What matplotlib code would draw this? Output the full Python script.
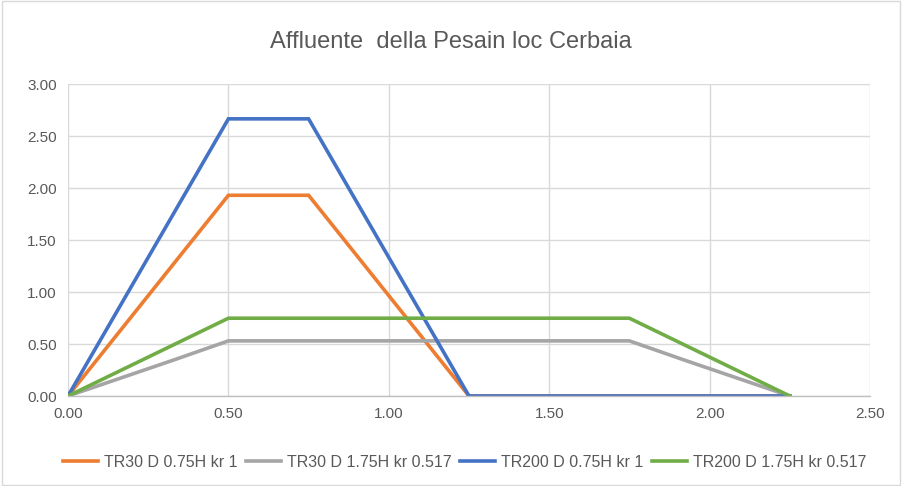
import matplotlib.pyplot as plt
from matplotlib import font_manager

names = {f.name for f in font_manager.fontManager.ttflist}
font = 'Liberation Sans Narrow' if 'Liberation Sans Narrow' in names else 'Liberation Sans'
plt.rcParams['font.family'] = [font, 'DejaVu Sans']

# dati
x_tr30_075 = [0, 0.5, 0.75, 1.25, 2.25]
y_tr30_075 = [0, 1.93, 1.93, 0, 0]
x_tr30_175 = [0, 0.333, 0.5, 1.75, 1.917, 2.25]
y_tr30_175 = [0, 0.35, 0.53, 0.53, 0.35, 0]
x_tr200_075 = [0, 0.5, 0.75, 1.25, 2.25]
y_tr200_075 = [0, 2.665, 2.665, 0, 0]
x_tr200_175 = [0, 0.5, 1.75, 2.25]
y_tr200_175 = [0, 0.748, 0.748, 0]

labels = ['TR30 D 0.75H kr 1', 'TR30 D 1.75H kr 0.517',
          'TR200 D 0.75H kr 1', 'TR200 D 1.75H kr 0.517']
colors = ['#ED7D31', '#A5A5A5', '#4472C4', '#70AD47']
xticks = [0, 0.5, 1.0, 1.5, 2.0, 2.5]
yticks = [0, 0.5, 1.0, 1.5, 2.0, 2.5, 3.0]

fig = plt.figure(figsize=(9.02, 4.86), dpi=100)
ax = fig.add_axes([68 / 902, 1 - 396 / 486, (870 - 68) / 902, (396 - 84) / 486])

series = [(x_tr30_075, y_tr30_075), (x_tr30_175, y_tr30_175),
          (x_tr200_075, y_tr200_075), (x_tr200_175, y_tr200_175)]
for (xs, ys), lab, c in zip(series, labels, colors):
    ax.plot(xs, ys, color=c, lw=2.6, label=lab, solid_joinstyle='miter')

ax.set_xlim(0, 2.5)
ax.set_ylim(0, 3.0)
ax.set_xticks(xticks)
ax.set_yticks(yticks)
ax.set_xticklabels([f'{v:.2f}' for v in xticks])
ax.set_yticklabels([f'{v:.2f}' for v in yticks])
ax.tick_params(length=0, labelsize=11, colors='#595959', pad=8)
ax.grid(True, color='#D9D9D9', lw=1)
ax.set_axisbelow(True)
for s in ['top', 'right', 'left']:
    ax.spines[s].set_visible(False)
ax.spines['bottom'].set_color('#BFBFBF')
ax.spines['bottom'].set_linewidth(1)

fig.text(0.5, 1 - 42 / 486, 'Affluente  della Pesain loc Cerbaia', ha='center', va='center',
         fontsize=17, color='#595959')

leg = fig.legend(loc='center', bbox_to_anchor=(0.515, 1 - 462 / 486), ncol=4, frameon=False,
                 fontsize=11.5, handlelength=2.2, columnspacing=0.5, handletextpad=0.4)
for t in leg.get_texts():
    t.set_color('#595959')

fig.patches.append(plt.Rectangle((0.002, 0.002), 0.996, 0.996, transform=fig.transFigure,
                                 fill=False, edgecolor='#D9D9D9', lw=1))

fig.savefig('out.png', dpi=100)
